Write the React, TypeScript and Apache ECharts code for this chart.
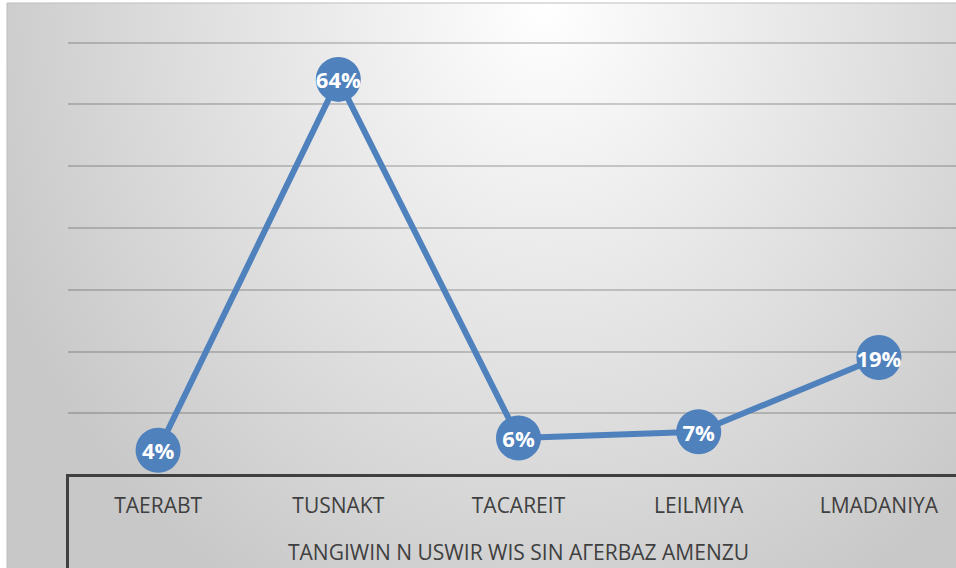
import React, { useEffect, useRef } from "react";
import * as echarts from "echarts";

const categories = ["TAERABT", "TUSNAKT", "TACAREIT", "LEILMIYA", "LMADANIYA"];
const values = [4, 64, 6, 7, 19];
const axisTitle = "TANGIWIN N USWIR WIS SIN AΓERBAZ AMENZU";

export default function App() {
  const ref = useRef<HTMLDivElement>(null);
  useEffect(() => {
    if (!ref.current) return;
    const chart = echarts.init(ref.current, null, { renderer: "svg" });
    chart.setOption({
      animation: false,
      backgroundColor: "#ffffff",
      graphic: [
        {
          type: "rect",
          z: -100,
          silent: true,
          shape: { x: 7, y: 3, width: 960, height: 1100 },
          style: {
            fill: {
              type: "radial",
              x: 0.56,
              y: 0.0,
              r: 0.62,
              colorStops: [
                { offset: 0, color: "#ffffff" },
                { offset: 1, color: "#c8c8c8" },
              ],
            },
            stroke: "#bdbdbd",
            lineWidth: 1,
          },
        },
        {
          type: "line",
          z: 100,
          silent: true,
          shape: { x1: 67.5, y1: 474, x2: 67.5, y2: 570 },
          style: { stroke: "#404040", lineWidth: 3 },
        },
      ],
      grid: {
        left: 68,
        right: -13,
        top: 42.3,
        bottom: 93,
        containLabel: false,
        outerBoundsMode: "none",
      },
      xAxis: {
        type: "category",
        data: categories,
        boundaryGap: true,
        axisLine: { show: true, lineStyle: { color: "#404040", width: 3 } },
        axisTick: { show: false },
        axisLabel: {
          color: "#404040",
          fontFamily: "Open Sans",
          fontSize: 21,
          margin: 19,
        },
        name: axisTitle,
        nameLocation: "middle",
        nameGap: 66,
        nameTextStyle: {
          color: "#404040",
          fontFamily: "Open Sans",
          fontSize: 21,
        },
      },
      yAxis: {
        type: "value",
        min: 0,
        max: 70,
        interval: 10,
        axisLabel: { show: false },
        axisLine: { show: false },
        axisTick: { show: false },
        splitLine: { show: true, lineStyle: { color: "rgba(0,0,0,0.18)", width: 2 } },
      },
      series: [
        {
          type: "line",
          data: values,
          symbol: "circle",
          symbolSize: 45,
          lineStyle: { color: "#4f81bd", width: 6 },
          itemStyle: { color: "#4f81bd" },
          label: {
            show: true,
            position: "inside",
            formatter: "{c}%",
            color: "#ffffff",
            fontFamily: "Open Sans",
            fontWeight: "bold",
            fontSize: 22,
          },
          z: 10,
        },
      ],
    });
    return () => chart.dispose();
  }, []);
  return (
    <div
      ref={ref}
      style={{ position: "fixed", left: 0, top: 0, width: 956, height: 568 }}
    />
  );
}
